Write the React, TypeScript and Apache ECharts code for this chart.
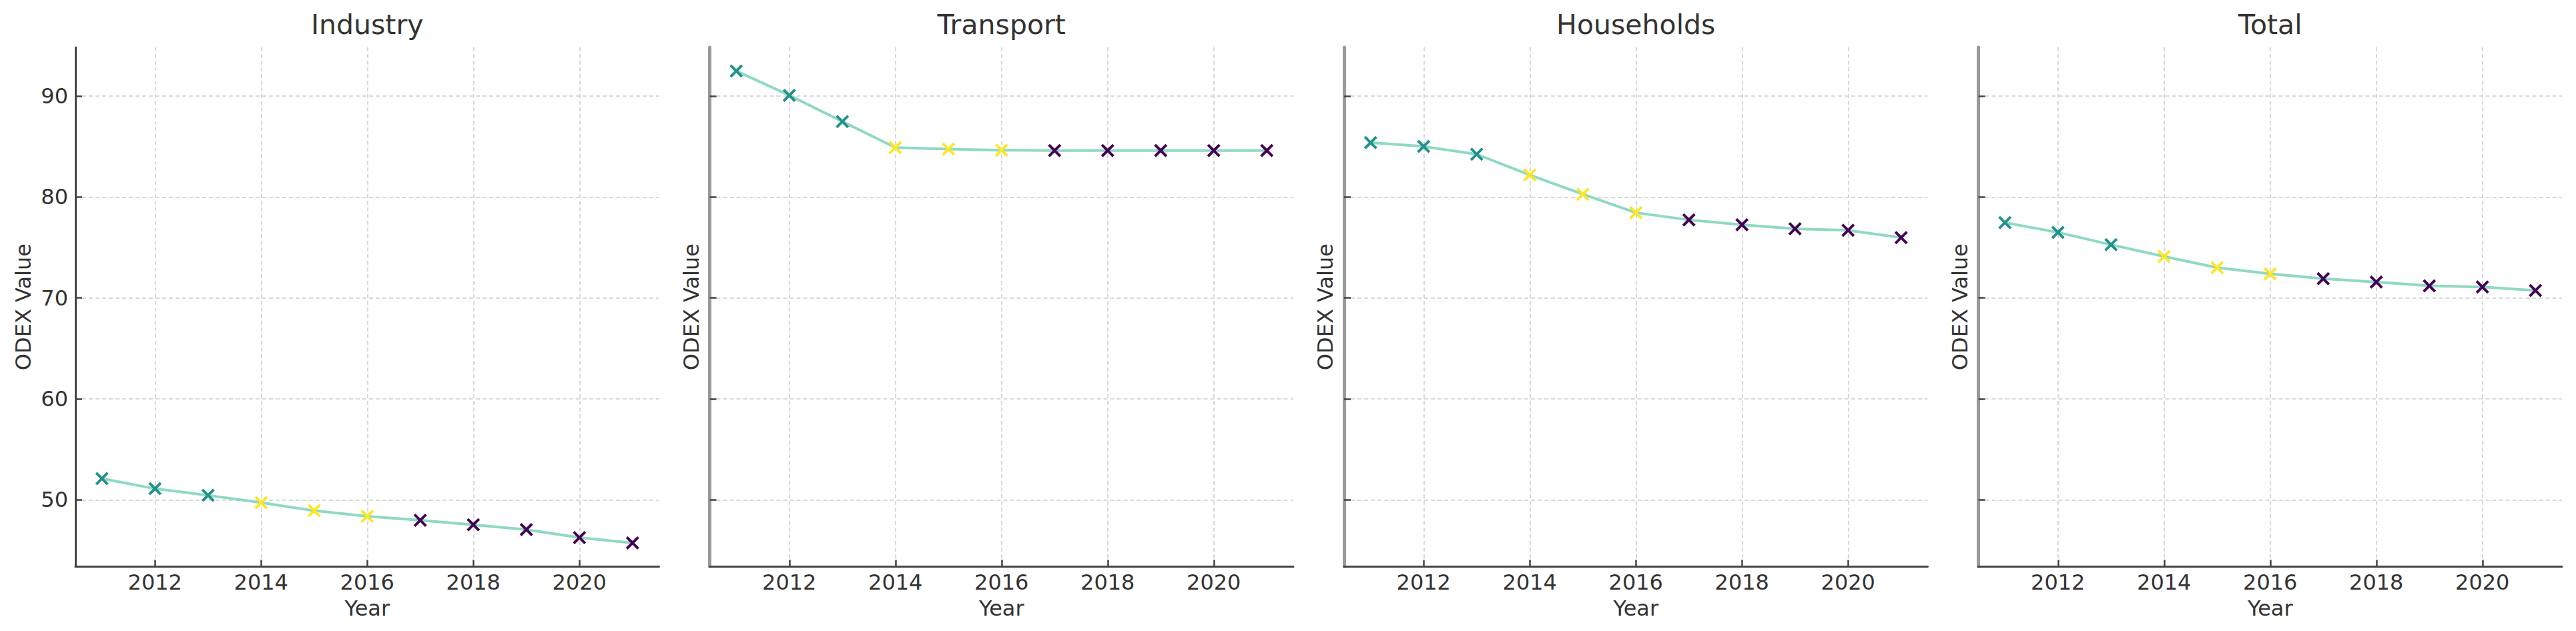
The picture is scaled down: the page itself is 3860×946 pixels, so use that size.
import React, { useEffect, useRef } from "react";
import * as echarts from "echarts";

const years = [2011, 2012, 2013, 2014, 2015, 2016, 2017, 2018, 2019, 2020, 2021];
const panelTitles = ["Industry", "Transport", "Households", "Total"];
const industry = [52.1, 51.1, 50.44, 49.72, 48.92, 48.36, 47.97, 47.53, 47.05, 46.25, 45.73];
const transport = [92.48, 90.07, 87.47, 84.89, 84.74, 84.63, 84.6, 84.6, 84.6, 84.6, 84.6];
const households = [85.38, 85.0, 84.23, 82.18, 80.27, 78.44, 77.73, 77.25, 76.85, 76.7, 75.97];
const total = [77.46, 76.49, 75.27, 74.1, 73.0, 72.38, 71.9, 71.57, 71.19, 71.08, 70.73];
const panelValues = [industry, transport, households, total];
const periods = [0, 0, 0, 1, 1, 1, 2, 2, 2, 2, 2];
const periodColors = ["#21918c", "#fde725", "#440154"];
const xTicks = [2012, 2014, 2016, 2018, 2020];
const yTicks = [50, 60, 70, 80, 90];
const xMin = 2010.5;
const xMax = 2021.5;
const yMin = 43.39;
const yMax = 94.82;

const FONT = '"DejaVu Sans", sans-serif';
const X_SYMBOL =
  "path://M0,14L14,0L50,36L86,0L100,14L64,50L100,86L86,100L50,64L14,100L0,86L36,50Z";

export default function App() {
  const ref = useRef<HTMLDivElement>(null);

  useEffect(() => {
    if (!ref.current) return;
    const chart = echarts.init(ref.current, undefined, { renderer: "svg" });

    const gridLeft0 = 113;
    const gridStep = 950.5;
    const gridW = 874.5;
    const gridTop = 71;
    const gridH = 778.3;

    const grids: any[] = [];
    const xAxes: any[] = [];
    const yAxes: any[] = [];
    const series: any[] = [];
    const graphics: any[] = [];

    panelTitles.forEach((title, i) => {
      const left = gridLeft0 + i * gridStep;
      grids.push({ left, top: gridTop, width: gridW, height: gridH, containLabel: false });
      graphics.push({
        type: "text",
        x: left + gridW / 2,
        y: 16,
        style: {
          text: title,
          fill: "#333",
          font: `41px ${FONT}`,
          align: "center",
          verticalAlign: "top",
        },
      });
      xAxes.push({
        gridIndex: i,
        type: "value",
        min: xMin,
        max: xMax,
        name: "Year",
        nameLocation: "middle",
        nameGap: 47,
        nameTextStyle: { fontSize: 32, color: "#333", fontFamily: FONT },
        axisLine: { show: true, onZero: false, lineStyle: { color: "#444", width: 3 } },
        axisTick: {
          show: true,
          inside: true,
          length: 10,
          customValues: xTicks,
          lineStyle: { color: "#444", width: 2.5 },
        },
        axisLabel: {
          show: true,
          customValues: xTicks,
          fontSize: 32,
          color: "#333",
          fontFamily: FONT,
          margin: 8,
          formatter: (v: number) => (xTicks.indexOf(v) >= 0 ? String(v) : ""),
        },
        splitLine: {
          show: true,
          lineStyle: { type: [6, 4], color: "#d9d9d9", width: 2 },
        },
      });
      yAxes.push({
        gridIndex: i,
        type: "value",
        min: yMin,
        max: yMax,
        name: "ODEX Value",
        nameLocation: "middle",
        nameGap: i === 0 ? 62 : 12,
        nameTextStyle: { fontSize: 32, color: "#333", fontFamily: FONT },
        axisLine: {
          show: true,
          onZero: false,
          lineStyle: i === 0 ? { color: "#444", width: 3 } : { color: "#9a9a9a", width: 5 },
        },
        axisTick: {
          show: true,
          inside: true,
          length: 10,
          customValues: yTicks,
          lineStyle: { color: "#444", width: 2.5 },
        },
        axisLabel: {
          show: i === 0,
          customValues: yTicks,
          fontSize: 32,
          color: "#333",
          fontFamily: FONT,
          margin: 11,
          formatter: (v: number) => (yTicks.indexOf(v) >= 0 ? String(v) : ""),
        },
        splitLine: {
          show: true,
          lineStyle: { type: [6, 4], color: "#d9d9d9", width: 2 },
        },
      });
      series.push({
        type: "line",
        name: title,
        xAxisIndex: i,
        yAxisIndex: i,
        symbol: X_SYMBOL,
        symbolSize: 20,
        showSymbol: true,
        showAllSymbol: true,
        lineStyle: { color: "#8fd9c2", width: 4 },
        itemStyle: { color: "#21918c" },
        emphasis: { disabled: true },
        silent: true,
        data: years.map((y, k) => ({
          value: [y, panelValues[i][k]],
          itemStyle: { color: periodColors[periods[k]] },
        })),
      });
    });

    chart.setOption({
      animation: false,
      backgroundColor: "#ffffff",
      textStyle: { fontFamily: FONT },
      grid: grids,
      xAxis: xAxes,
      yAxis: yAxes,
      series,
      graphic: graphics,
    });

    return () => {
      chart.dispose();
    };
  }, []);

  return (
    <div
      ref={ref}
      style={{ position: "absolute", left: 0, top: 0, width: 3860, height: 946, background: "#fff" }}
    />
  );
}
